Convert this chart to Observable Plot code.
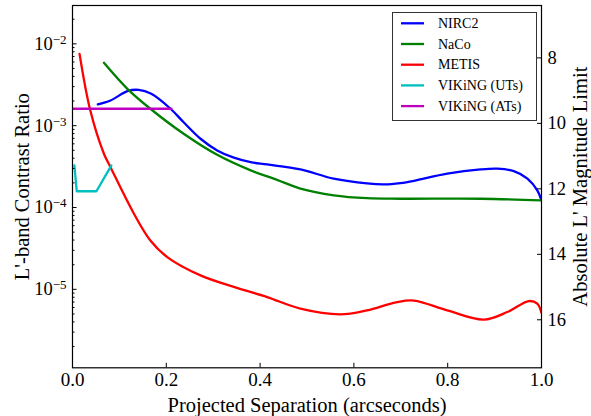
<!DOCTYPE html>
<html><head><meta charset="utf-8">
<script src="https://cdn.jsdelivr.net/npm/d3@7"></script>
<script src="https://cdn.jsdelivr.net/npm/@observablehq/plot@0.6"></script>
<style>
body{margin:0;background:#fff}
#chart{position:relative;width:591px;height:416px}
</style>
</head><body><div id="chart"></div>
<script>
// ---- data ----
const nirc2Sep = [0.054,0.081,0.117,0.141,0.168,0.209,0.237,0.273,0.3085,0.344,0.380,0.415,0.486,0.557,0.628,0.665,0.699,0.728,0.799,0.870,0.906,0.941,0.970,0.991,1.0];
const nirc2Con = [1.82e-3,2.03e-3,2.64e-3,2.74e-3,2.45e-3,1.61e-3,1.10e-3,6.92e-4,4.98e-4,4.06e-4,3.58e-4,3.36e-4,2.92e-4,2.25e-4,1.97e-4,1.92e-4,1.99e-4,2.12e-4,2.59e-4,2.92e-4,2.98e-4,2.78e-4,2.25e-4,1.62e-4,1.22e-4];

const nacoSep = [0.067,0.117,0.166,0.237,0.3085,0.380,0.436,0.486,0.557,0.628,0.699,0.870,1.0];
const nacoCon = [5.86e-3,2.82e-3,1.61e-3,7.96e-4,4.40e-4,2.84e-4,2.18e-4,1.70e-4,1.41e-4,1.30e-4,1.28e-4,1.28e-4,1.22e-4];

const metisSep = [0.015,0.038,0.067,0.081,0.131,0.166,0.202,0.273,0.344,0.415,0.486,0.571,0.628,0.690,0.728,0.799,0.877,0.927,0.973,0.991,1.0];
const metisCon = [7.55e-3,1.53e-3,4.54e-4,3.11e-4,8.4e-5,3.96e-5,2.48e-5,1.48e-5,1.07e-5,8.05e-6,5.81e-6,4.95e-6,5.54e-6,6.95e-6,7.30e-6,5.54e-6,4.27e-6,5.28e-6,7.19e-6,6.68e-6,5.14e-6];

const vikingUTsSep = [0.004,0.009,0.051,0.083];
const vikingUTsCon = [3.27e-4,1.58e-4,1.58e-4,3.27e-4];

const vikingATsSep = [0.0,0.211];
const vikingATsCon = [1.61e-3,1.61e-3];

const seriesNames  = ["NIRC2","NaCo","METIS","VIKiNG (UTs)","VIKiNG (ATs)"];
const seriesColors = ["#0000ff","#008000","#ff0000","#00bfbf","#bf00bf"];

const xTicks = [0.0,0.2,0.4,0.6,0.8,1.0];
const yMajorTicks = [1e-5,1e-4,1e-3,1e-2];
const magTicks = [8,10,12,14,16];
const magZero = 2.57;           // M = magZero - 2.5 log10(contrast)
const xDomain = [0,1];
const yDomain = [1.1e-6, 2.94e-2];

// ---- derived tables ----
const seriesData = [
  d3.zip(nirc2Sep, nirc2Con),
  d3.zip(nacoSep, nacoCon),
  d3.zip(metisSep, metisCon),
  d3.zip(vikingUTsSep, vikingUTsCon),
  d3.zip(vikingATsSep, vikingATsCon)
];
const smooth = [true,true,true,false,false];
const yMinorTicks = [];
for (let e = -7; e <= -1; e++) for (let m = 2; m <= 9; m++) {
  const v = m * Math.pow(10, e);
  if (v >= yDomain[0] && v <= yDomain[1]) yMinorTicks.push(v);
}
const magToCon = m => Math.pow(10, (magZero - m) / 2.5);
const conToMag = c => String(Math.round(magZero - 2.5 * Math.log10(c)));

const FONT = "'Liberation Serif','Times New Roman','DejaVu Serif',serif";

const plot = Plot.plot({
  width: 591, height: 416,
  marginLeft: 72, marginRight: 50, marginTop: 5, marginBottom: 48.7,
  style: {fontFamily: FONT, background: "#fff", color: "#000"},
  x: {domain: xDomain},
  y: {type: "log", domain: yDomain},
  marks: [
    ...seriesData.map((d, i) => Plot.line(d, {
      x: p => p[0], y: p => p[1], stroke: seriesColors[i], strokeWidth: 2.3,
      curve: smooth[i] ? "catmull-rom" : "linear", clip: true
    })),
    // x axis: inward ticks + labels
    Plot.axisX(xTicks, {tickSize: -4.5, fill: "none", stroke: "#000"}),
    Plot.axisX(xTicks, {tickSize: 0, tickPadding: 5, fontSize: 19, text: d => d3.format(".1f")(d), label: null}),
    // left axis
    Plot.axisY(yMajorTicks, {tickSize: -4.5, fill: "none", stroke: "#000"}),
    Plot.axisY(yMinorTicks, {tickSize: -2.5, fill: "none", stroke: "#000"}),
    Plot.axisY(yMajorTicks, {tickSize: 0, tickPadding: 6, fontSize: 18.5, label: null,
      text: d => "10^" + Math.round(Math.log10(d))}),
    // right axis (absolute magnitude)
    Plot.axisY(magTicks.map(magToCon), {anchor: "right", tickSize: -5, fill: "none", stroke: "#000"}),
    Plot.axisY(magTicks.map(magToCon), {anchor: "right", tickSize: 0, tickPadding: 6, fontSize: 18.5, label: null,
      text: conToMag}),
    Plot.frame({stroke: "#000", strokeWidth: 1.2}),
    // axis titles
    Plot.text(["L'-band Contrast Ratio"], {frameAnchor: "left", dx: -50, rotate: -90, fontSize: 20.5, text: d => d, textAnchor: "middle", lineAnchor: "middle"}),
    Plot.text(["Absolute L' Magnitude Limit"], {frameAnchor: "right", dx: 39, rotate: -90, fontSize: 20.5, text: d => d, textAnchor: "middle", lineAnchor: "middle"}),
    Plot.text(["Projected Separation (arcseconds)"], {frameAnchor: "bottom", dy: 38, fontSize: 20.5, text: d => d, textAnchor: "middle", lineAnchor: "middle"})
  ]
});

// superscript exponents on log tick labels
d3.select(plot).selectAll("text").each(function() {
  const t = this.textContent;
  if (t && t.startsWith("10^") && this.childElementCount === 0) {
    const exp = t.slice(3).replace("-", "\u2212");
    const sel = d3.select(this);
    sel.text(null);
    sel.append("tspan").text("10");
    sel.append("tspan").attr("dy", "-6").attr("font-size", 13).text(exp);
  }
});

// legend box inside the plot area
const svg = d3.select(plot);
const lg = svg.append("g").attr("font-family", FONT).attr("font-size", 14).attr("text-anchor", "start");
lg.append("rect").attr("x", 392.5).attr("y", 12.5).attr("width", 144).attr("height", 108)
  .attr("fill", "#fff").attr("stroke", "#333").attr("stroke-width", 1);
seriesNames.forEach((name, i) => {
  const yy = 23.3 + i * 20.7;
  lg.append("line").attr("x1", 401).attr("x2", 424).attr("y1", yy).attr("y2", yy)
    .attr("stroke", seriesColors[i]).attr("stroke-width", 2.3);
  lg.append("text").attr("x", 438).attr("y", yy).attr("dy", "0.34em").attr("fill", "#000").text(name);
});

document.getElementById("chart").appendChild(plot);
</script>
</body></html>
